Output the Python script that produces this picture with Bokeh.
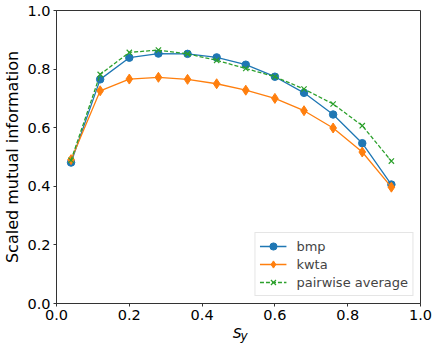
from bokeh.plotting import figure
from bokeh.models import FixedTicker, Legend, LegendItem, Label, PrintfTickFormatter
from bokeh.embed import file_html
from bokeh.resources import INLINE

s_y = [0.04, 0.12, 0.20, 0.28, 0.36, 0.44, 0.52, 0.60, 0.68, 0.76, 0.84, 0.92]
bmp = [0.481, 0.765, 0.839, 0.853, 0.852, 0.840, 0.815, 0.774, 0.719, 0.645, 0.547, 0.406]
kwta = [0.491, 0.726, 0.766, 0.772, 0.765, 0.750, 0.728, 0.700, 0.658, 0.599, 0.517, 0.397]
pairwise = [0.489, 0.782, 0.857, 0.865, 0.852, 0.830, 0.802, 0.774, 0.732, 0.681, 0.607, 0.486]
ticks = [0.0, 0.2, 0.4, 0.6, 0.8, 1.0]

FONT = "DejaVu Sans"

p = figure(width=438, height=346, x_range=(0, 1), y_range=(0, 1),
           output_backend="svg", toolbar_location=None,
           min_border_left=52, min_border_right=18, min_border_top=10, min_border_bottom=43)
p.background_fill_color = "white"
p.border_fill_color = "white"
p.xgrid.visible = False
p.ygrid.visible = False
p.outline_line_color = "#333333"
p.outline_line_width = 1

for ax in (p.xaxis[0], p.yaxis[0]):
    ax.ticker = FixedTicker(ticks=ticks)
    ax.formatter = PrintfTickFormatter(format="%.1f")
    ax.major_tick_out = 3
    ax.major_tick_in = 0
    ax.minor_tick_line_color = None
    ax.axis_line_color = "#333333"
    ax.major_tick_line_color = "#333333"
    ax.major_label_text_font = FONT
    ax.major_label_text_font_size = "14.5px"
    ax.major_label_text_color = "black"
    ax.major_label_standoff = 3

p.yaxis.axis_label = "Scaled mutual information"
p.yaxis.axis_label_text_font = FONT
p.yaxis.axis_label_text_font_size = "16px"
p.yaxis.axis_label_text_font_style = "normal"
p.yaxis.axis_label_text_color = "black"
p.yaxis.axis_label_standoff = 2

# x axis label s_y (s with subscript y), placed in the region below the frame
p.add_layout(Label(x=185, y=11, x_units="screen", y_units="screen", text="s",
                   text_align="right", text_baseline="alphabetic",
                   text_font=FONT, text_font_style="italic", text_font_size="17px",
                   text_color="black"), "below")
p.add_layout(Label(x=-180, y=-32, x_units="screen", y_units="screen", text="y",
                   text_align="left", text_baseline="alphabetic",
                   text_font=FONT, text_font_style="italic", text_font_size="12px",
                   text_color="black"), "right")

c1, c2, c3 = "#1f77b4", "#ff7f0e", "#2ca02c"
l1 = p.line(s_y, bmp, line_color=c1, line_width=1.3)
m1 = p.scatter(s_y, bmp, marker="circle", size=7.5, fill_color=c1, line_color=c1)
l2 = p.line(s_y, kwta, line_color=c2, line_width=1.3)
m2 = p.scatter(s_y, kwta, marker="diamond", size=10, fill_color=c2, line_color=c2)
l3 = p.line(s_y, pairwise, line_color=c3, line_width=1.3, line_dash="4 2")
m3 = p.scatter(s_y, pairwise, marker="x", size=7.5, line_color=c3, line_width=1.2)

legend = Legend(items=[
    LegendItem(label="bmp", renderers=[l1, m1]),
    LegendItem(label="kwta", renderers=[l2, m2]),
    LegendItem(label="pairwise average", renderers=[l3, m3]),
], location="bottom_right")
legend.label_text_font = FONT
legend.label_text_font_size = "13px"
legend.glyph_width = 27
legend.glyph_height = 18
legend.label_height = 18
legend.label_standoff = 10
legend.spacing = 0
legend.padding = 4
legend.margin = 7
legend.border_line_color = "#cccccc"
legend.border_line_width = 1
legend.background_fill_alpha = 0.8
p.add_layout(legend)

open("out.html", "w").write(file_html(p, INLINE))
